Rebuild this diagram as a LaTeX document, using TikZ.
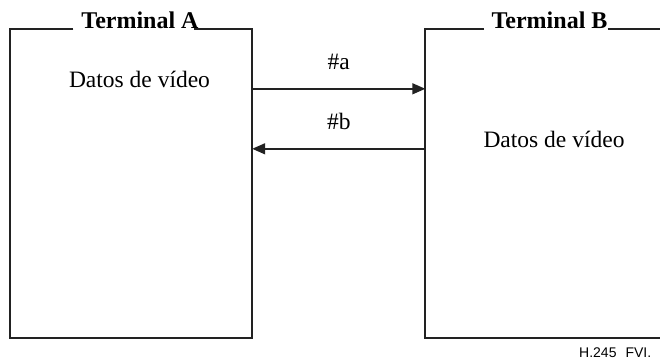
\documentclass[tikz,border=0pt]{standalone}
\usepackage{fontspec}
\setmainfont{Liberation Serif}
\newfontfamily\fvifont{Liberation Sans}
\usetikzlibrary{arrows.meta,positioning}
\definecolor{LineGray}{HTML}{222222}
\tikzset{
  TB/.style={rectangle,minimum width=241.5pt,minimum height=308pt,inner sep=0pt},
  TT/.style={font=\fontsize{24}{28}\selectfont\bfseries,anchor=base,inner sep=3.33pt},
  TX/.style={font=\fontsize{23.5}{28}\selectfont,anchor=base},
  edge/.style={draw=LineGray,line width=1.7pt},
  arr/.style={-{Triangle[length=13pt,width=11pt]},draw=LineGray,line width=1.5pt},
  LB/.style={font=\fontsize{23.5}{28}\selectfont,anchor=base,midway,yshift=19pt}
}

\begin{document}
\begin{tikzpicture}[x=1pt,y=-1pt]
  \useasboundingbox (0,0) rectangle (660,362);
  \node[TB] (boxA) at (131.25,183.5) {};
  \node[TB,minimum width=236pt] (boxB) at (543.5,183.5) {};

  \node[TT] (titleA) at (140,28) {Terminal A};
  \node[TT] (titleB) at (549.5,28) {Terminal B};

  \node[TX] (datosA) at (139.5,87) {Datos de vídeo};
  \node[TX] (datosB) at (554,147) {Datos de vídeo};

  % terminal A, top line broken by the title
  \draw[edge] ([xshift=-4.5pt]titleA.west |- boxA.north) -- (boxA.north west)
    -- (boxA.south west) -- (boxA.south east) -- (boxA.north east)
    -- ([xshift=-8.5pt]titleA.east |- boxA.north);
  % terminal B, open to the right
  \draw[edge] ([xshift=-4pt]titleB.west |- boxB.north) -- (boxB.north west)
    -- (boxB.south west) -- ([xshift=2pt]boxB.south east);
  \draw[edge] ([xshift=-3.3pt]titleB.east |- boxB.north) -- ([xshift=2pt]boxB.north east);

  \draw[arr] ([yshift=-59.5pt]boxA.north east) -- ([yshift=-59.5pt]boxA.north east -| boxB.west)
    node[LB] (la) {\#a};
  \draw[arr] ([yshift=-119.5pt]boxB.north west) -- ([yshift=-119.5pt]boxB.north west -| boxA.east)
    node[LB] (lb) {\#b};

  \node[font=\fvifont\fontsize{14}{16}\selectfont,anchor=base west,inner sep=0pt] (fvi)
    at (579,357) {H.245\hspace{9pt}FVI.};
\end{tikzpicture}
\end{document}
